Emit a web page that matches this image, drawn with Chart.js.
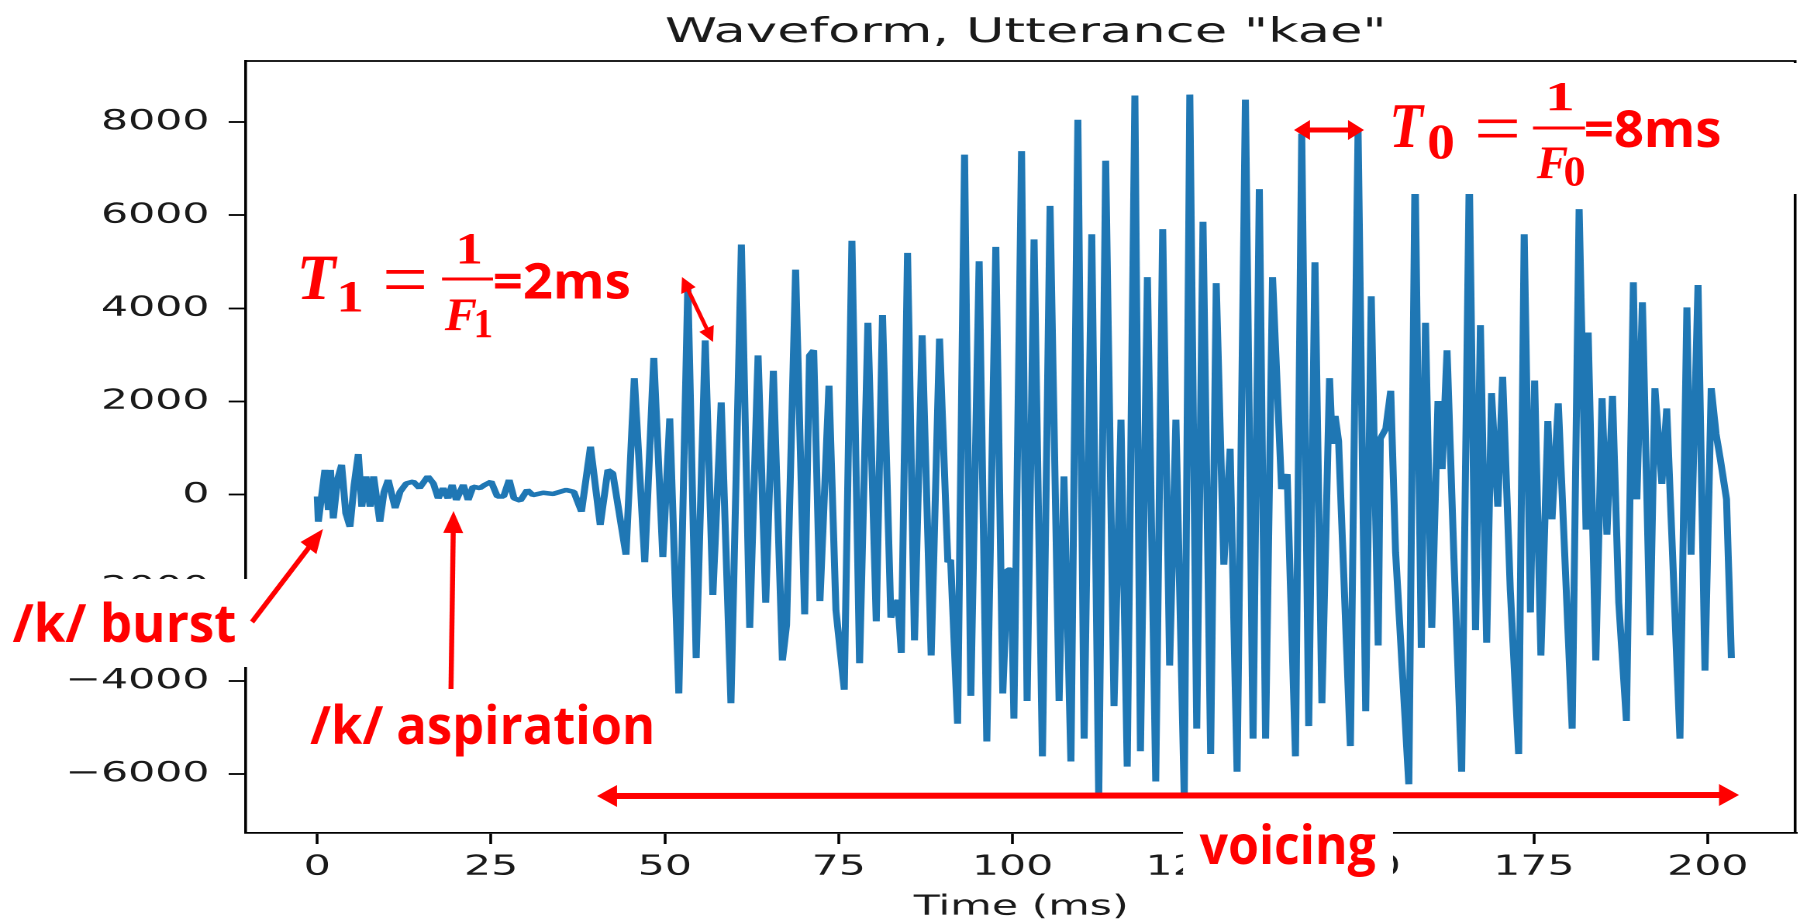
<!DOCTYPE html>
<html>
<head>
<meta charset="utf-8">
<title>Waveform, Utterance "kae"</title>
<script src="https://cdn.jsdelivr.net/npm/chart.js@4.4.1/dist/chart.umd.min.js"></script>
<style>
  html, body { margin: 0; padding: 0; background: #fff; overflow: hidden; }
  #wrap { position: absolute; left: 0; top: 0; width: 1161px; height: 924px; transform: scaleX(1.550388); transform-origin: 0 0; }
</style>
</head>
<body>
<div id="wrap"><canvas id="myChart"></canvas></div>
<script>
// the original picture is stretched sideways, so the chart is drawn narrow and stretched by css
const K = 1800 / 1161;

const chartTitle = 'Waveform, Utterance "kae"';
const xLabel = 'Time (ms)';

const timeMs = [
  0.0, 0.15, 1.1, 1.6, 1.9, 2.3, 2.9, 3.5, 4.1, 4.7,
  5.3, 5.9, 6.4, 7.0, 7.6, 8.1, 9.0, 9.6, 10.2, 11.2,
  11.9, 12.8, 13.8, 14.7, 15.9, 16.7, 17.4, 18.1, 18.8, 19.4,
  20.0, 21.0, 21.7, 22.4, 23.4, 24.1, 25.0, 25.9, 26.8, 27.6,
  28.3, 29.2, 30.2, 31.0, 32.5, 33.9, 35.8, 36.9, 38.0, 39.3,
  40.7, 41.8, 42.5, 44.4, 45.6, 47.1, 48.4,
  49.7, 50.7, 52.0, 53.3, 54.5, 55.8, 56.9, 58.1, 59.5, 61.0,
  62.2, 63.4, 64.5, 65.6, 66.9, 67.5, 68.8, 70.1, 70.8, 71.4,
  72.3, 73.6, 74.6, 75.8, 76.9, 78.0, 79.2, 80.4, 81.3, 82.5,
  83.5, 84.0, 84.9, 85.9, 87.0, 88.3, 89.5, 90.7, 91.1, 92.1,
  93.1, 94.0, 95.2, 96.3, 97.6, 98.6, 99.3, 99.8, 100.2, 101.3,
  102.1, 103.1, 104.3, 105.4, 106.7, 107.4, 108.4, 109.4, 110.3, 111.4,
  112.4, 113.4, 114.6, 115.6, 116.5, 117.6, 118.4, 119.4, 120.6, 121.6,
  122.6, 123.5, 124.7, 125.5, 126.5, 127.4, 128.5, 129.3, 130.4, 131.3,
  132.3, 133.5, 134.6, 135.5, 136.4, 137.4, 138.7, 139.5, 140.7, 141.6,
  142.6, 143.5, 144.5, 145.6, 146.0, 146.4, 146.9, 148.6, 149.7, 150.8,
  151.6, 152.6, 152.9, 153.7, 154.4, 155.1, 157.0, 157.9, 158.8, 159.4,
  160.3, 161.2, 161.8, 162.5, 163.5, 164.6, 165.7, 166.6, 167.3, 168.2,
  168.9, 169.8, 170.5, 171.6, 172.8, 173.6, 174.5, 175.1, 176.0, 177.0,
  177.6, 178.5, 180.5, 181.5, 182.5, 182.8, 183.9, 184.8, 185.5, 186.3,
  187.2, 188.3, 189.3, 189.8, 190.6, 191.7, 192.4, 193.4, 194.1, 196.0,
  197.0, 197.6, 198.6, 199.6, 200.5, 201.2, 201.8, 202.7, 203.4
];

const amplitude = [
  -40, -580, 530, -330, 530, -510, 315, 640, -400, -690,
  210, 870, -260, 390, -260, 390, -580, 60, 315, -290,
  60, 240, 280, 140, 390, 240, -80, 140, -80, 210,
  -115, 210, -115, 170, 140, 210, 280, -40, -40, 315,
  -80, -130, 100, -10, 40, 15, 100, 60, -365, 1030,
  -650, 530, 460, -1290, 2500, -1450, 2935,
  -1340, 1635, -4270, 4500, -3510, 3310, -2155, 1980, -4480, 5370,
  -2860, 2990, -2320, 2660, -3560, -2800, 4830, -2570, 2990, 3100,
  -2285, 2340, -2480, -4190, 5450, -3620, 3690, -2720, 3855, -2640,
  -2260, -3400, 5190, -3130, 3420, -3455, 3350, -1450, -1400, -4920,
  7300, -4320, 5010, -5300, 5320, -4270, -1610, -1610, -4810, 7375,
  -4430, 5480, -5620, 6200, -4430, 390, -5730, 8050, -5240, 5590,
  -6490, 7170, -4540, 1610, -5840, 8570, -5510, 4670, -6160, 5700,
  -3670, 1610, -6490, 8590, -5025, 5860, -5570, 4540, -1505, 985,
  -5950, 8480, -5240, 6560, -5240, 4670, 120, 440, -5620, 7750,
  -4970, 4990, -4480, 2500, 1090, 1690, 1150, -5400, 7860, -4650,
  4260, -3240, 1200, 1420, 2230, -1235, -6220, 7000, -3290, 3690,
  -2860, 2010, 550, 3100, -1400, -5950, 6900, -2910, 3640, -3180,
  2180, -260, 2530, -2050, -5570, 5590, -2530, 2450, -3455, 1580,
  -530, 1960, -5025, 6130, -750, 3480, -3560, 2070, -860, 2120,
  -2320, -4860, 4560, -100, 4130, -3020, 2285, 230, 1850, -5240,
  4020, -1290, 4500, -3780, 2285, 1300, 770, -100, -3510
];

const xTicks = [0, 25, 50, 75, 100, 125, 150, 175, 200];
const yTicks = [-6000, -4000, -2000, 0, 2000, 4000, 6000, 8000];

const points = timeMs.map((t, i) => ({ x: t, y: amplitude[i] }));

const RED = '#ff0000';
const tickFont = { family: 'DejaVu Sans', size: 27.5 };

// glyph drawn to fill a given ink box (final pixel coords)
function inkText(ctx, text, font, box) {
    ctx.font = font;
    ctx.textAlign = 'left';
    ctx.textBaseline = 'alphabetic';
    const m = ctx.measureText(text);
    const w = m.actualBoundingBoxLeft + m.actualBoundingBoxRight;
    const h = m.actualBoundingBoxAscent + m.actualBoundingBoxDescent;
    ctx.save();
    ctx.translate(box[0], box[1]);
    ctx.scale((box[2] - box[0]) / w, (box[3] - box[1]) / h);
    ctx.fillText(text, m.actualBoundingBoxLeft, m.actualBoundingBoxAscent);
    ctx.restore();
}

// bold label squeezed to a width, on a baseline
function wideText(ctx, text, size, x0, x1, base) {
    ctx.font = 'bold ' + size + 'px "Open Sans"';
    ctx.textAlign = 'left';
    ctx.textBaseline = 'alphabetic';
    const m = ctx.measureText(text);
    const w = m.actualBoundingBoxLeft + m.actualBoundingBoxRight;
    ctx.save();
    ctx.translate(x0, base);
    ctx.scale((x1 - x0) / w, 1);
    ctx.fillText(text, m.actualBoundingBoxLeft, 0);
    ctx.restore();
}

function arrowHead(ctx, x, y, ux, uy, hl, hw) {
    ctx.beginPath();
    ctx.moveTo(x, y);
    ctx.lineTo(x - ux * hl - uy * hw, y - uy * hl + ux * hw);
    ctx.lineTo(x - ux * hl + uy * hw, y - uy * hl - ux * hw);
    ctx.closePath();
    ctx.fill();
}

function arrow(ctx, x0, y0, x1, y1, lw, hl, hw, both) {
    const len = Math.hypot(x1 - x0, y1 - y0);
    const ux = (x1 - x0) / len, uy = (y1 - y0) / len;
    const s = both ? hl * 0.8 : 0;
    ctx.lineWidth = lw;
    ctx.lineCap = 'butt';
    ctx.beginPath();
    ctx.moveTo(x0 + ux * s, y0 + uy * s);
    ctx.lineTo(x1 - ux * hl * 0.8, y1 - uy * hl * 0.8);
    ctx.stroke();
    arrowHead(ctx, x1, y1, ux, uy, hl, hw);
    if (both) arrowHead(ctx, x0, y0, -ux, -uy, hl, hw);
}

const annotations = {
    id: 'annotations',
    afterDraw(chart) {
        const ctx = chart.ctx;
        const a = chart.chartArea;

        ctx.save();
        // top and right spines
        ctx.strokeStyle = '#000';
        ctx.lineWidth = 1.8;
        ctx.beginPath();
        ctx.moveTo(a.left, a.top);
        ctx.lineTo(a.right - 0.9, a.top);
        ctx.lineTo(a.right - 0.9, a.bottom);
        ctx.stroke();
        // title, centred over the axes like matplotlib
        ctx.fillStyle = '#1a1a1a';
        ctx.font = '34px "DejaVu Sans"';
        ctx.textAlign = 'center';
        ctx.textBaseline = 'alphabetic';
        ctx.fillText(chartTitle, (a.left + a.right + 6) / 2, 42);
        ctx.restore();

        // everything below in final (stretched) pixel coords
        ctx.save();
        ctx.scale(1 / K, 1);

        // white patches of the pasted labels
        ctx.fillStyle = '#fff';
        ctx.fillRect(0, 579, 249, 88);
        ctx.fillRect(1183, 799, 210, 125);
        ctx.fillRect(1385, 63, 415, 131);

        ctx.fillStyle = RED;
        ctx.strokeStyle = RED;

        wideText(ctx, '/k/ burst', 53, 12.6, 235.4, 642);
        wideText(ctx, '/k/ aspiration', 53, 310, 651.6, 744);
        wideText(ctx, 'voicing', 54, 1199.7, 1375.3, 864);

        const mathIt = 'italic bold 60px "Liberation Serif"';
        const mathUp = 'bold 60px "Liberation Serif"';
        const mathEq = '60px "Liberation Serif"';

        // T1 = 1/F1 = 2ms
        inkText(ctx, 'T', mathIt, [301, 257, 338, 299]);
        inkText(ctx, '1', mathUp, [340, 282, 361, 311]);
        inkText(ctx, '=', mathEq, [385, 271, 424, 290]);
        inkText(ctx, '1', mathUp, [459, 234, 480, 263]);
        ctx.fillRect(442, 277.5, 51, 3);
        inkText(ctx, 'F', mathIt, [444, 300, 477, 330]);
        inkText(ctx, '1', mathUp, [476, 310, 491, 337]);
        wideText(ctx, '=2ms', 49.5, 495, 629, 298.3);

        // T0 = 1/F0 = 8ms
        inkText(ctx, 'T', mathIt, [1393, 106, 1425, 147]);
        inkText(ctx, '0', mathUp, [1429, 126, 1453, 159]);
        inkText(ctx, '=', mathEq, [1477, 120, 1517, 138]);
        inkText(ctx, '1', mathUp, [1549, 83, 1572, 110]);
        ctx.fillRect(1533, 126.5, 52, 3);
        inkText(ctx, 'F', mathIt, [1536, 148, 1568, 178]);
        inkText(ctx, '0', mathUp, [1565, 158, 1584, 186]);
        wideText(ctx, '=8ms', 51, 1586, 1720, 147);

        // arrows
        arrow(ctx, 682, 277, 713, 342, 4, 15, 8, true);
        arrow(ctx, 1294, 130, 1364, 130, 5, 16, 10, true);
        arrow(ctx, 252, 622, 323, 529, 5, 24, 10, false);
        arrow(ctx, 451, 689, 453.5, 511, 5, 22, 10, false);
        arrow(ctx, 597, 796, 1739, 795, 6, 20, 11, true);

        ctx.restore();
    }
};

new Chart(document.getElementById('myChart'), {
    type: 'line',
    data: {
        datasets: [{
            label: 'waveform',
            data: points,
            borderColor: '#1f77b4',
            backgroundColor: '#1f77b4',
            borderWidth: 4.5,
            borderJoinStyle: 'bevel',
            pointRadius: 0,
            tension: 0,
            fill: false
        }]
    },
    options: {
        responsive: true,
        maintainAspectRatio: false,
        animation: false,
        devicePixelRatio: 2,
        events: [],
        layout: { padding: { top: 61, right: 0, bottom: 0, left: 0 } },
        plugins: {
            legend: { display: false },
            tooltip: { enabled: false },
            title: { display: false }
        },
        scales: {
            x: {
                type: 'linear',
                min: -10.29,
                max: 212.77,
                afterFit: (s) => { s.height = 91; },
                afterBuildTicks: (s) => { s.ticks = xTicks.map(v => ({ value: v })); },
                ticks: {
                    color: '#1a1a1a',
                    font: tickFont,
                    padding: 7,
                    maxRotation: 0,
                    autoSkip: false,
                    callback: (v) => String(v)
                },
                grid: { drawOnChartArea: false, color: '#000', tickColor: '#000', tickLength: 11, tickWidth: 1.8 },
                border: { display: true, color: '#000', width: 1.8 },
                title: { display: true, text: xLabel, color: '#1a1a1a', font: tickFont, padding: 0 }
            },
            y: {
                min: -7266,
                max: 9311,
                afterFit: (s) => { s.width = 158.5; },
                afterBuildTicks: (s) => { s.ticks = yTicks.map(v => ({ value: v })); },
                ticks: {
                    color: '#1a1a1a',
                    font: tickFont,
                    padding: 12.4,
                    autoSkip: false,
                    callback: (v) => (v < 0 ? '\u2212' : '') + Math.abs(v)
                },
                grid: { drawOnChartArea: false, color: '#000', tickColor: '#000', tickLength: 11, tickWidth: 1.8 },
                border: { display: true, color: '#000', width: 1.8 }
            }
        }
    },
    plugins: [annotations]
});
</script>
</body>
</html>
